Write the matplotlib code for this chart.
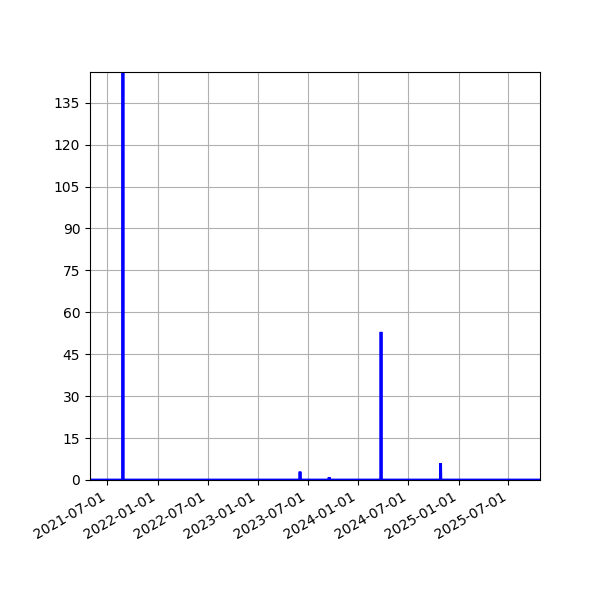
import pandas as pd
import numpy as np
import matplotlib
matplotlib.use('Agg')
import matplotlib.pyplot as plt
import matplotlib.dates as mdates

# sparse event counts, zero everywhere else
start_date = '2021-04-29'
end_date = '2025-10-24'
event_dates = ['2021-08-27', '2023-06-03', '2023-09-17', '2024-03-24', '2024-10-27']
event_values = [146, 3, 1, 53, 6]

############################
def build_series(dates, values):
    xs = [pd.Timestamp(start_date)]
    ys = [0]
    for d, v in zip(dates, values):
        d = pd.Timestamp(d)
        xs += [d - pd.Timedelta(days=1), d, d + pd.Timedelta(days=1)]
        ys += [0, v, 0]
    xs.append(pd.Timestamp(end_date))
    ys.append(0)
    return pd.Series(ys, index=xs)

s = build_series(event_dates, event_values)

fig, ax = plt.subplots(figsize=(6, 6), dpi=100)
ax.plot(s.index, s.values, color='blue', linewidth=2,
        solid_joinstyle='miter', solid_capstyle='butt')
ax.set_xlim(pd.Timestamp(start_date), pd.Timestamp(end_date))
ax.set_ylim(0, max(event_values))
ax.set_yticks(np.arange(0, 136, 15))
ax.xaxis.set_major_locator(mdates.MonthLocator(bymonth=[1, 7]))
ax.xaxis.set_major_formatter(mdates.DateFormatter('%Y-%m-%d'))
ax.grid(True, color='#b0b0b0')
fig.autofmt_xdate()
fig.subplots_adjust(left=0.15, right=0.9, top=0.88, bottom=0.2)
fig.savefig('out.png')
